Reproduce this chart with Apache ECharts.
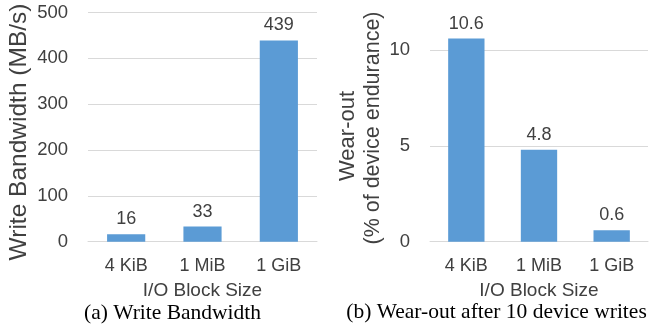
<!DOCTYPE html>
<html>
<head>
<meta charset="utf-8">
<script src="https://cdn.jsdelivr.net/npm/echarts@6/dist/echarts.min.js"></script>
<style>
  html, body { margin: 0; padding: 0; background: #fff; }
  #chart { width: 652px; height: 333px; }
</style>
</head>
<body>
<div id="chart"></div>
<script>
// Block sizes shared by both panels
const blockSizes = ['4 KiB', '1 MiB', '1 GiB'];
// (a) write bandwidth, MB/s
const bandwidth = [16, 33, 439];
// (b) wear-out, % of device endurance after 10 device writes
const wearOut = [10.6, 4.8, 0.6];

const sans = '"Liberation Sans", Arial, sans-serif';
const serif = '"Liberation Serif", "Times New Roman", serif';
const textColor = '#404040';
const gridColor = '#d9d9d9';
const barColor = '#5b9bd5';

function catAxis(gridIndex) {
  return {
    type: 'category',
    gridIndex,
    data: blockSizes,
    axisLine: { lineStyle: { color: gridColor, width: 1 } },
    axisTick: { show: false },
    axisLabel: { color: textColor, fontFamily: sans, fontSize: 18, margin: 15 }
  };
}

function valAxis(gridIndex, max, interval) {
  return {
    type: 'value',
    gridIndex,
    min: 0,
    max,
    interval,
    axisLine: { show: false },
    axisTick: { show: false },
    splitLine: { lineStyle: { color: gridColor, width: 1 }, showMaxLine: max % interval === 0 },
    axisLabel: { color: textColor, fontFamily: sans, fontSize: 18.5, margin: 20,
                 showMaxLabel: max % interval === 0 }
  };
}

function barSeries(idx, data) {
  return {
    type: 'bar',
    xAxisIndex: idx,
    yAxisIndex: idx,
    data,
    barWidth: '50%',
    itemStyle: { color: barColor },
    label: { show: true, position: 'top', distance: 6, color: textColor,
             fontFamily: sans, fontSize: 18 },
    silent: true
  };
}

const chart = echarts.init(document.getElementById('chart'), null, { renderer: 'canvas' });
chart.setOption({
  animation: false,
  backgroundColor: '#fff',
  grid: [
    { left: 88, right: 335, top: 12.5, bottom: 91.3 },
    { left: 430, right: 4, top: 11.7, bottom: 91.3 }
  ],
  xAxis: [catAxis(0), catAxis(1)],
  yAxis: [valAxis(0, 500, 100), valAxis(1, 12, 5)],
  series: [barSeries(0, bandwidth), barSeries(1, wearOut)],
  graphic: [
    { type: 'text', x: 19, y: 132, rotation: Math.PI / 2,
      style: { text: 'Write Bandwidth (MB/s)', fill: textColor, font: '24.5px ' + sans,
               align: 'center', verticalAlign: 'middle' } },
    { type: 'text', x: 348, y: 136, rotation: Math.PI / 2,
      style: { text: 'Wear-out', fill: textColor, font: '22px ' + sans,
               align: 'center', verticalAlign: 'middle' } },
    { type: 'text', x: 373, y: 128, rotation: Math.PI / 2,
      style: { text: '(% of device endurance)', fill: textColor, font: '21.5px ' + sans,
               align: 'center', verticalAlign: 'middle' } },
    { type: 'text', x: 202.5, y: 291,
      style: { text: 'I/O Block Size', fill: textColor, font: '19px ' + sans,
               align: 'center', verticalAlign: 'middle' } },
    { type: 'text', x: 539, y: 291,
      style: { text: 'I/O Block Size', fill: textColor, font: '19px ' + sans,
               align: 'center', verticalAlign: 'middle' } },
    { type: 'text', x: 172.5, y: 313,
      style: { text: '(a) Write Bandwidth', fill: '#000', font: '21.5px ' + serif,
               align: 'center', verticalAlign: 'middle' } },
    { type: 'text', x: 496.5, y: 312,
      style: { text: '(b) Wear-out after 10 device writes', fill: '#000', font: '21.5px ' + serif,
               align: 'center', verticalAlign: 'middle' } }
  ]
});
</script>
</body>
</html>
